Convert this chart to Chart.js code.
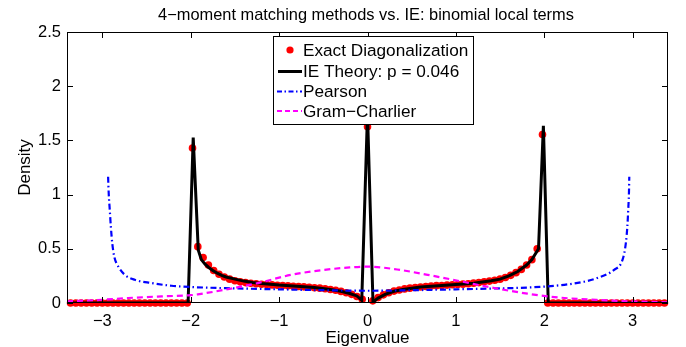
<!DOCTYPE html>
<html>
<head>
<meta charset="utf-8">
<script src="https://cdn.jsdelivr.net/npm/chart.js@4/dist/chart.umd.min.js"></script>
<style>
body{margin:0;background:#fff;}
canvas{display:block;}
</style>
</head>
<body>
<canvas id="c" width="686" height="347"></canvas>
<script>
const FONT='"Liberation Sans", Arial, Helvetica, sans-serif';
const titleText='4\u2212moment matching methods vs. IE: binomial local terms';
const xTicks=[-3,-2,-1,0,1,2,3];
const yTicks=[0,0.5,1,1.5,2,2.5];

// exact diagonalization (histogram bin centres and heights)
const edX=[-3.36,-3.30,-3.24,-3.18,-3.12,-3.06,-3.00,-2.94,-2.88,-2.82,-2.76,-2.70,-2.64,-2.58,-2.52,-2.46,-2.40,-2.34,-2.28,-2.22,-2.16,-2.10,-2.04,
-1.98,-1.92,-1.86,-1.80,-1.74,-1.68,-1.62,-1.56,-1.50,-1.44,-1.38,-1.32,-1.26,-1.20,-1.14,-1.08,-1.02,-0.96,-0.90,-0.84,-0.78,-0.72,-0.66,-0.60,-0.54,-0.48,-0.42,-0.36,-0.30,-0.24,-0.18,-0.12,-0.06,
0,
0.06,0.12,0.18,0.24,0.30,0.36,0.42,0.48,0.54,0.60,0.66,0.72,0.78,0.84,0.90,0.96,1.02,1.08,1.14,1.20,1.26,1.32,1.38,1.44,1.50,1.56,1.62,1.68,1.74,1.80,1.86,1.92,1.98,
2.04,2.10,2.16,2.22,2.28,2.34,2.40,2.46,2.52,2.58,2.64,2.70,2.76,2.82,2.88,2.94,3.00,3.06,3.12,3.18,3.24,3.30,3.36];
const edY=[0,0,0,0,0,0,0,0,0,0,0,0,0,0,0,0,0,0,0,0,0,0,0,
1.43,0.52,0.42,0.35,0.30,0.265,0.24,0.22,0.205,0.195,0.188,0.182,0.177,0.173,0.17,0.167,0.164,0.161,0.158,0.155,0.152,0.149,0.145,0.141,0.137,0.132,0.125,0.117,0.107,0.095,0.08,0.06,0.035,
1.625,
0.02,0.05,0.075,0.095,0.11,0.12,0.13,0.137,0.143,0.148,0.152,0.156,0.16,0.162,0.165,0.168,0.17,0.174,0.178,0.183,0.188,0.195,0.202,0.21,0.22,0.235,0.255,0.28,0.31,0.35,0.40,0.50,1.555,
0,0,0,0,0,0,0,0,0,0,0,0,0,0,0,0,0,0,0,0,0,0,0];

// IE theory curve
const ieX=[-3.4,-2.03,-1.972,-1.915,-1.88,-1.84,-1.8,-1.75,-1.7,-1.65,-1.6,-1.5,-1.4,-1.3,-1.2,-1.0,-0.8,-0.6,-0.4,-0.3,-0.2,-0.12,-0.065,0,0.062,0.12,0.2,0.3,0.4,0.6,0.8,1.0,1.2,1.4,1.5,1.6,1.7,1.8,1.86,1.935,1.99,2.045,3.4];
const ieY=[0,0,1.527,0.49,0.40,0.36,0.33,0.30,0.275,0.255,0.24,0.22,0.202,0.19,0.18,0.165,0.155,0.142,0.122,0.108,0.088,0.065,0.025,1.75,0.008,0.045,0.08,0.108,0.125,0.148,0.16,0.17,0.183,0.205,0.22,0.25,0.29,0.35,0.40,0.5,1.635,0,0];

// Pearson fit
const pearsonX=[-2.935,-2.928,-2.916,-2.904,-2.888,-2.866,-2.82,-2.746,-2.633,-2.444,-2.218,-1.99,-1.5,-1.0,-0.5,0,0.5,1.0,1.5,1.85,2.226,2.45,2.6,2.79,2.886,2.923,2.94,2.95,2.958,2.962];
const pearsonY=[1.165,1.01,0.858,0.705,0.552,0.43,0.337,0.26,0.214,0.184,0.159,0.147,0.135,0.126,0.118,0.113,0.118,0.126,0.135,0.144,0.168,0.196,0.23,0.306,0.40,0.552,0.705,0.86,1.01,1.165];

// Gram-Charlier fit
const gcX=[-3.4,-3.0,-2.71,-2.33,-2.0,-1.92,-1.615,-1.24,-0.862,-0.486,-0.2,0,0.305,0.68,1.06,1.435,1.81,2.04,2.23,2.6,2.98,3.4];
const gcY=[0.015,0.03,0.046,0.061,0.072,0.08,0.122,0.184,0.26,0.306,0.328,0.335,0.313,0.26,0.199,0.138,0.086,0.061,0.046,0.028,0.015,0.006];

function pts(xs,ys){return xs.map((x,i)=>({x:x,y:ys[i]}));}
function fmt(v){return String(v).replace('-','\u2212');}

const matlabFrame={
  id:'matlabFrame',
  afterDraw(chart){
    const ctx=chart.ctx, a=chart.chartArea;
    const xs=chart.scales.x, ys=chart.scales.y;
    ctx.save();
    // box + inward ticks
    ctx.strokeStyle='#000';
    ctx.lineWidth=1;
    ctx.strokeRect(a.left+0.5,a.top+0.5,a.right-a.left-1,a.bottom-a.top-1);
    ctx.beginPath();
    xTicks.forEach(v=>{
      const p=Math.round(xs.getPixelForValue(v))+0.5;
      ctx.moveTo(p,a.bottom);ctx.lineTo(p,a.bottom-6);
      ctx.moveTo(p,a.top);ctx.lineTo(p,a.top+6);
    });
    yTicks.forEach(v=>{
      const p=Math.round(ys.getPixelForValue(v))+0.5;
      ctx.moveTo(a.left,p);ctx.lineTo(a.left+6,p);
      ctx.moveTo(a.right,p);ctx.lineTo(a.right-6,p);
    });
    ctx.stroke();

    // title and axis labels
    ctx.fillStyle='#000';
    ctx.textAlign='center';
    ctx.textBaseline='middle';
    ctx.font='16.4px '+FONT;
    ctx.fillText(titleText,366,15);
    ctx.font='17px '+FONT;
    ctx.fillText('Eigenvalue',(a.left+a.right)/2,338);
    ctx.save();
    ctx.translate(25,(a.top+a.bottom)/2);
    ctx.rotate(-Math.PI/2);
    ctx.fillText('Density',0,0);
    ctx.restore();

    // legend box
    const bx=273.5,by=36.5,bw=200,bh=88;
    ctx.fillStyle='#fff';
    ctx.fillRect(bx,by,bw,bh);
    ctx.strokeStyle='#000';
    ctx.lineWidth=1;
    ctx.strokeRect(bx,by,bw,bh);
    const rows=[50,71.5,91.5,111];
    const labels=['Exact Diagonalization','IE Theory: p = 0.046','Pearson','Gram\u2212Charlier'];
    ctx.fillStyle='#ff0000';
    ctx.beginPath();ctx.arc(290,rows[0],3.6,0,Math.PI*2);ctx.fill();
    ctx.strokeStyle='#000';ctx.lineWidth=3;
    ctx.beginPath();ctx.moveTo(278,rows[1]);ctx.lineTo(302,rows[1]);ctx.stroke();
    ctx.strokeStyle='#0000ff';ctx.lineWidth=1.8;ctx.setLineDash([5,2.5,1.5,2.5]);
    ctx.beginPath();ctx.moveTo(277,rows[2]);ctx.lineTo(302,rows[2]);ctx.stroke();
    ctx.strokeStyle='#ff00ff';ctx.setLineDash([5,3]);
    ctx.beginPath();ctx.moveTo(277,rows[3]);ctx.lineTo(302,rows[3]);ctx.stroke();
    ctx.setLineDash([]);
    ctx.fillStyle='#000';
    ctx.textAlign='left';
    ctx.font='17.2px '+FONT;
    labels.forEach((t,i)=>ctx.fillText(t,303,rows[i]+1));
    ctx.restore();
  }
};

new Chart(document.getElementById('c').getContext('2d'),{
  type:'scatter',
  data:{datasets:[
    {label:'Gram\u2212Charlier',data:pts(gcX,gcY),showLine:true,borderColor:'#ff00ff',borderWidth:2.2,borderDash:[6,4],pointRadius:0,cubicInterpolationMode:'monotone',order:1},
    {label:'Pearson',data:pts(pearsonX,pearsonY),showLine:true,borderColor:'#0000ff',borderWidth:2.2,borderDash:[6,3,1.5,3],pointRadius:0,cubicInterpolationMode:'monotone',order:2},
    {label:'IE Theory: p = 0.046',data:pts(ieX,ieY),showLine:true,borderColor:'#000',borderWidth:3,pointRadius:0,tension:0,order:3},
    {label:'Exact Diagonalization',data:pts(edX,edY),showLine:false,backgroundColor:'#ff0000',borderWidth:0,pointRadius:3.8,clip:5,order:4}
  ]},
  options:{
    responsive:false,
    animation:false,
    events:[],
    layout:{padding:{top:32,right:18,left:0,bottom:0}},
    plugins:{legend:{display:false},title:{display:false},tooltip:{enabled:false}},
    scales:{
      x:{type:'linear',min:-3.4,max:3.4,
        afterBuildTicks:s=>{s.ticks=xTicks.map(v=>({value:v}));},
        afterFit:s=>{s.height=44;},
        grid:{display:false,drawTicks:false},border:{display:false},
        ticks:{padding:9,autoSkip:false,maxRotation:0,color:'#000',font:{size:16.5,family:FONT},callback:v=>fmt(v)}},
      y:{type:'linear',min:0,max:2.5,
        afterBuildTicks:s=>{s.ticks=yTicks.map(v=>({value:v}));},
        afterFit:s=>{s.width=67;},
        grid:{display:false,drawTicks:false},border:{display:false},
        ticks:{padding:6,autoSkip:false,color:'#000',font:{size:16.5,family:FONT},callback:v=>fmt(v)}}
    }
  },
  plugins:[matlabFrame]
});
</script>
</body>
</html>
